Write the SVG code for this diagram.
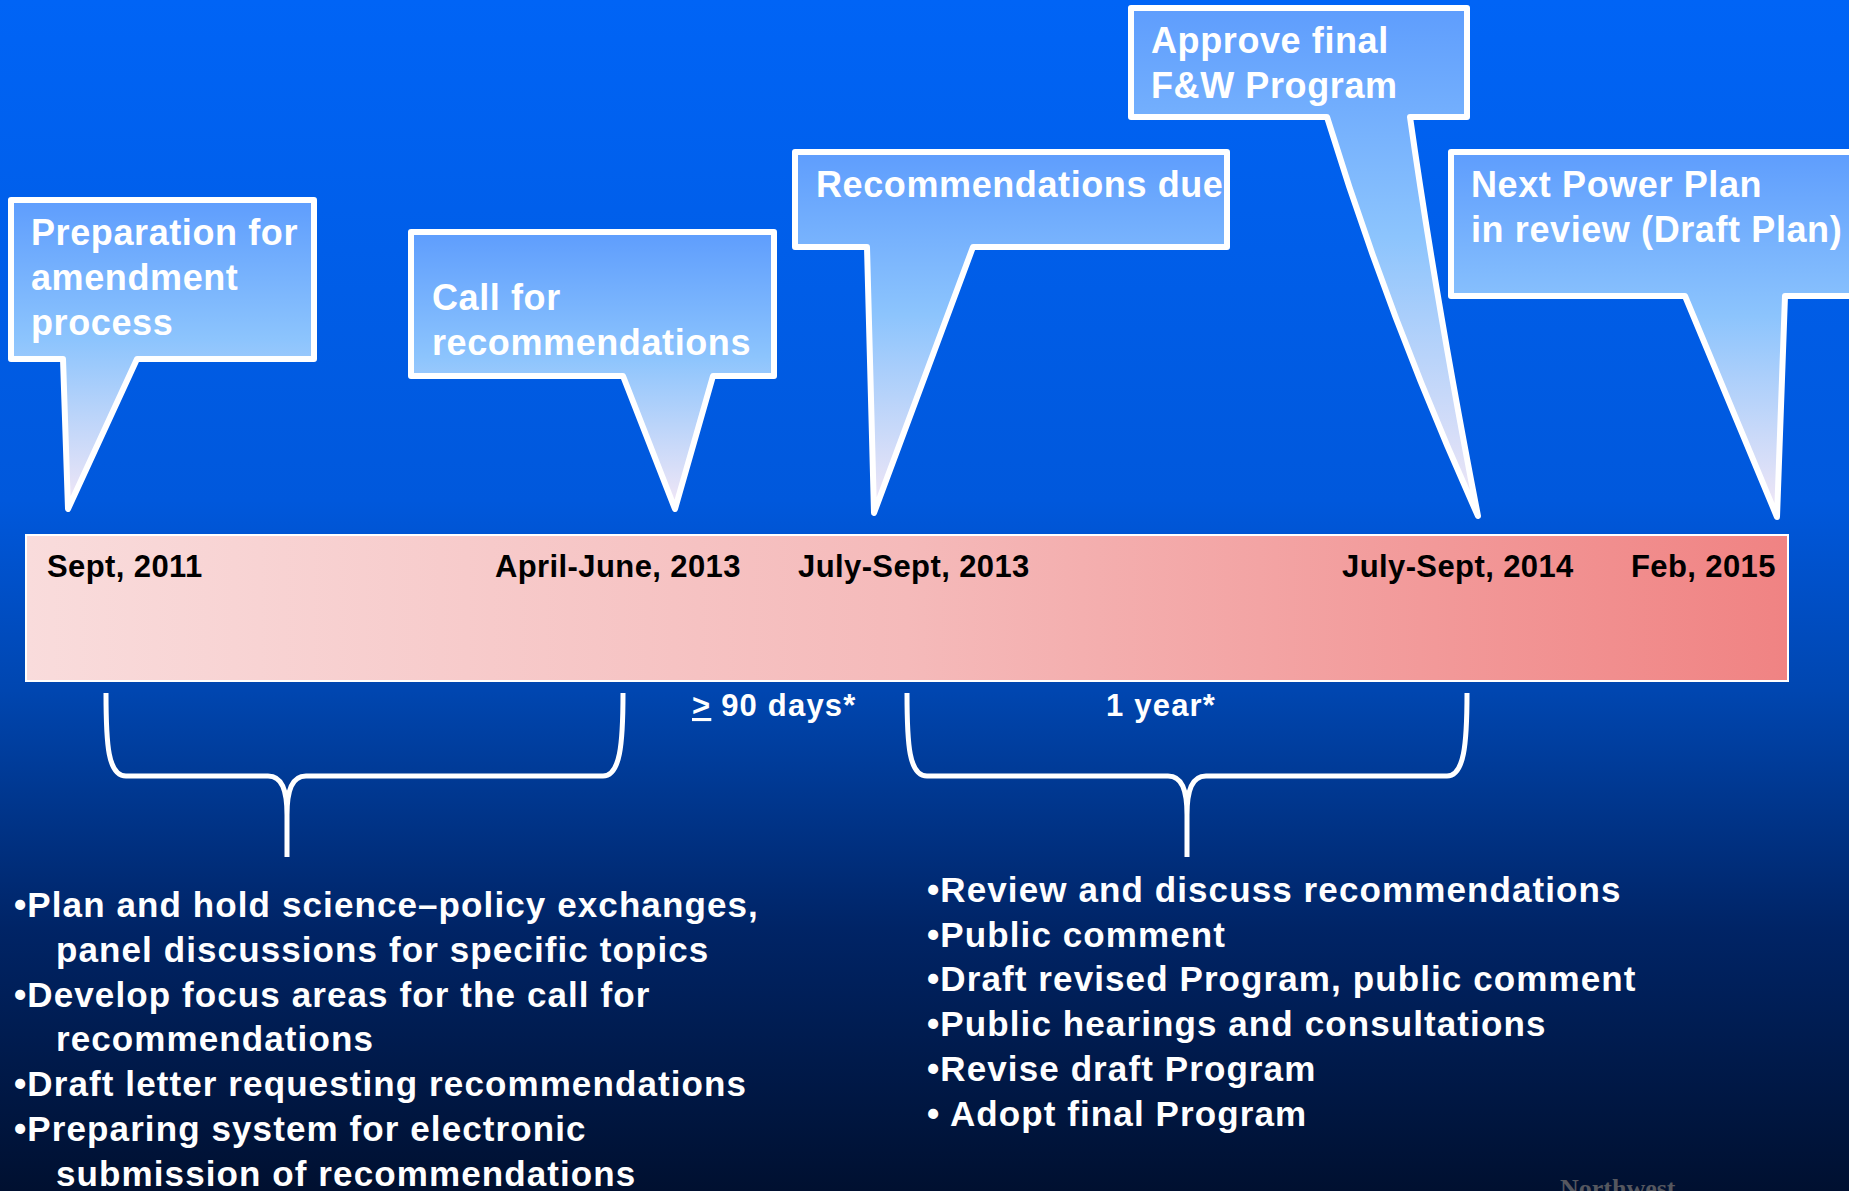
<svg xmlns="http://www.w3.org/2000/svg" width="1849" height="1191" viewBox="0 0 1849 1191">
<defs>
<linearGradient id="bg" x1="0" y1="0" x2="0" y2="1">
<stop offset="0" stop-color="#0064f6"/>
<stop offset="0.42" stop-color="#0058dc"/>
<stop offset="0.58" stop-color="#0046b0"/>
<stop offset="0.78" stop-color="#002466"/>
<stop offset="1" stop-color="#001030"/>
</linearGradient>
<linearGradient id="callout" x1="0" y1="0" x2="0" y2="1">
<stop offset="0" stop-color="#5e9dfd"/>
<stop offset="0.45" stop-color="#8cc4fd"/>
<stop offset="1" stop-color="#f4e8f6"/>
</linearGradient>
<linearGradient id="bar" x1="0" y1="0" x2="1" y2="0">
<stop offset="0" stop-color="#f9dcdc"/>
<stop offset="0.5" stop-color="#f5baba"/>
<stop offset="1" stop-color="#f08383"/>
</linearGradient>
<style>
.co{fill:url(#callout);stroke:#fff;stroke-width:6;stroke-linejoin:round}
.ct{font-family:"Liberation Sans",Arial,sans-serif;font-weight:bold;font-size:36px;letter-spacing:0.6px;fill:#fff}
.dt{font-family:"Liberation Sans",Arial,sans-serif;font-weight:bold;font-size:31px;letter-spacing:0.4px;fill:#000}
.br{fill:none;stroke:#fff;stroke-width:5;stroke-linejoin:round;stroke-linecap:butt}
.lb{font-family:"Liberation Sans",Arial,sans-serif;font-weight:bold;font-size:31px;letter-spacing:1.2px;fill:#fff}
.bl{font-family:"Liberation Sans",Arial,sans-serif;font-weight:bold;font-size:35px;letter-spacing:1.1px;fill:#fff}
</style>
</defs>
<rect width="1849" height="1191" fill="url(#bg)"/>

<g id="timeline">
<rect x="26" y="535" width="1762" height="146" fill="url(#bar)" stroke="#fff" stroke-width="2"/>
<text class="dt" x="47" y="577">Sept, 2011</text>
<text class="dt" x="495" y="577">April-June, 2013</text>
<text class="dt" x="798" y="577">July-Sept, 2013</text>
<text class="dt" x="1342" y="577">July-Sept, 2014</text>
<text class="dt" x="1631" y="577">Feb, 2015</text>
</g>

<g id="callout-preparation">
<path class="co" d="M11,200 H314 V359 H137 L68,509 L63,359 H11 Z"/>
<text class="ct" x="31" y="245">Preparation for</text>
<text class="ct" x="31" y="290">amendment</text>
<text class="ct" x="31" y="335">process</text>
</g>

<g id="callout-call">
<path class="co" d="M411,232 H774 V376 H713 L675,509 L623,376 H411 Z"/>
<text class="ct" x="432" y="310">Call for</text>
<text class="ct" x="432" y="355">recommendations</text>
</g>

<g id="callout-due">
<path class="co" d="M795,152 H1227 V247 H973 L874,513 L867,247 H795 Z"/>
<text class="ct" x="816" y="197">Recommendations due</text>
</g>

<g id="callout-approve">
<path class="co" d="M1131,8 H1467 V117 H1410 Q1436,300 1478,516 Q1388,316 1327,117 H1131 Z"/>
<text class="ct" x="1151" y="53">Approve final</text>
<text class="ct" x="1151" y="98">F&amp;W Program</text>
</g>

<g id="callout-next">
<path class="co" d="M1451,152 H1862 V296 H1785 L1777,517 L1685,296 H1451 Z"/>
<text class="ct" x="1471" y="197">Next Power Plan</text>
<text class="ct" x="1471" y="242">in review (Draft Plan)</text>
</g>

<g id="connectors">
<path class="br" d="M106,693 C106,745 108,776 126,776 H268 C282,776 287,790 287,815 V857 M287,815 C287,790 292,776 306,776 H603 C620,776 623,745 623,693"/>
<path class="br" d="M907,693 C907,745 909,776 927,776 H1168 C1182,776 1187,790 1187,815 V857 M1187,815 C1187,790 1192,776 1206,776 H1447 C1464,776 1467,745 1467,693"/>
</g>

<g id="durations">
<text class="lb" x="692" y="716"><tspan text-decoration="underline">&gt;</tspan> 90 days*</text>
<text class="lb" x="1106" y="716">1 year*</text>
</g>

<g id="tasks-left">
<text class="bl" x="14" y="917">•Plan and hold science–policy exchanges,</text>
<text class="bl" x="56" y="962">panel discussions for specific topics</text>
<text class="bl" x="14" y="1007">•Develop focus areas for the call for</text>
<text class="bl" x="56" y="1051">recommendations</text>
<text class="bl" x="14" y="1096">•Draft letter requesting recommendations</text>
<text class="bl" x="14" y="1141">•Preparing system for electronic</text>
<text class="bl" x="56" y="1186">submission of recommendations</text>
</g>

<g id="tasks-right">
<text class="bl" x="927" y="902">•Review and discuss recommendations</text>
<text class="bl" x="927" y="947">•Public comment</text>
<text class="bl" x="927" y="991">•Draft revised Program, public comment</text>
<text class="bl" x="927" y="1036">•Public hearings and consultations</text>
<text class="bl" x="927" y="1081">•Revise draft Program</text>
<text class="bl" x="927" y="1126">• Adopt final Program</text>
</g>

<text x="1560" y="1197" font-family="Liberation Serif, serif" font-weight="bold" font-size="26" fill="#55575f">Northwest</text>
</svg>
